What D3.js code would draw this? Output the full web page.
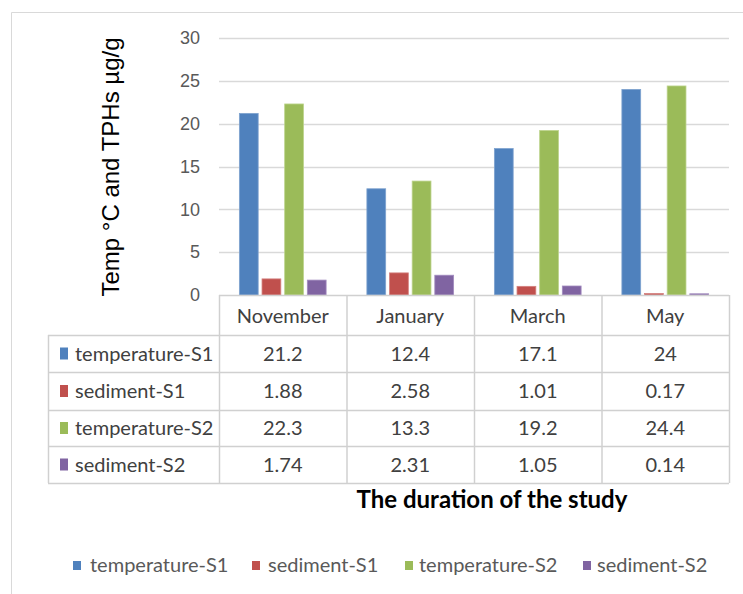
<!DOCTYPE html>
<html><head><meta charset="utf-8">
<script src="https://cdn.jsdelivr.net/npm/d3@7"></script>
<style>body{margin:0;background:#fff}svg{display:block}</style>
</head><body>
<svg id="c" width="743" height="594"></svg>
<script>
const categories = ["November","January","March","May"];
const seriesNames = ["temperature-S1","sediment-S1","temperature-S2","sediment-S2"];
const temperatureS1 = [21.2,12.4,17.1,24];
const sedimentS1 = [1.88,2.58,1.01,0.17];
const temperatureS2 = [22.3,13.3,19.2,24.4];
const sedimentS2 = [1.74,2.31,1.05,0.14];
const seriesLabels = [["21.2","12.4","17.1","24"],["1.88","2.58","1.01","0.17"],["22.3","13.3","19.2","24.4"],["1.74","2.31","1.05","0.14"]];
const yTicks = [0,5,10,15,20,25,30];
const colors = ["#4F81BD","#C0504D","#9BBB59","#8064A2"];
const strokes = ["#7fa3cf","#d4807e","#bcd38c","#a28cbf"];
const values = [temperatureS1, sedimentS1, temperatureS2, sedimentS2];

const svg = d3.select("#c");
const font = "Lato, 'Open Sans', sans-serif";
const textCol = "#404040";
const gridCol = "#d9d9d9";

svg.append("path").attr("d","M11.5,594 V12.5 H743").attr("fill","none").attr("stroke",gridCol);

const plotL = 219, plotR = 729, plotT = 38, plotB = 295;
const x0 = d3.scaleBand().domain(categories).range([plotL, plotR]).padding(0);
const x1 = d3.scaleBand().domain(seriesNames).range([0, x0.bandwidth()]).paddingInner(0.17).paddingOuter(0.9);
const y = d3.scaleLinear().domain([0,30]).range([plotB, plotT]);

svg.append("g").selectAll("line").data(yTicks.filter(t=>t>0)).join("line")
  .attr("x1",plotL).attr("x2",plotR).attr("y1",d=>Math.round(y(d))+0.5).attr("y2",d=>Math.round(y(d))+0.5)
  .attr("stroke",gridCol).attr("stroke-width",1.5);

const yAxis = d3.axisLeft(y).tickValues(yTicks).tickSize(0).tickPadding(0);
const ga = svg.append("g").attr("transform",`translate(${200},0)`).call(yAxis);
ga.select(".domain").remove();
ga.selectAll("text").attr("font-family","'Liberation Sans', Arial, sans-serif").attr("font-size",18).attr("fill","#595959");

categories.forEach((c,ci)=>{
  seriesNames.forEach((s,si)=>{
    const v = values[si][ci];
    svg.append("rect")
      .attr("x", x0(c)+x1(s)).attr("width", x1.bandwidth())
      .attr("y", y(v)).attr("height", plotB - y(v))
      .attr("fill", colors[si]).attr("stroke", strokes[si]).attr("stroke-width",0.8);
  });
});

svg.append("text").attr("transform",`translate(119,167) rotate(-90)`)
  .attr("text-anchor","middle").attr("font-family","'Liberation Sans', Arial, sans-serif")
  .attr("font-size",24).attr("fill","#000").text("Temp °C and TPHs µg/g");

const tblL = 48;
const rowY = [295,335,372,410,446,483];
const tcol = "#d0d0d0";
const tg = svg.append("g");
tg.append("line").attr("x1",plotL).attr("x2",plotR).attr("y1",rowY[0]+0.5).attr("y2",rowY[0]+0.5).attr("stroke",tcol).attr("stroke-width",1.5);
for (let r=1;r<rowY.length;r++){
  tg.append("line").attr("x1",tblL).attr("x2",plotR).attr("y1",rowY[r]+0.5).attr("y2",rowY[r]+0.5).attr("stroke",tcol).attr("stroke-width",1.5);
}
tg.append("line").attr("x1",tblL+0.5).attr("x2",tblL+0.5).attr("y1",rowY[1]).attr("y2",rowY[5]).attr("stroke",tcol).attr("stroke-width",1.5);
[...categories.map(c=>x0(c)), plotR].forEach(xx=>{
  tg.append("line").attr("x1",xx+0.5).attr("x2",xx+0.5).attr("y1",rowY[0]).attr("y2",rowY[5]).attr("stroke",tcol).attr("stroke-width",1.5);
});
tg.selectAll("text.h").data(categories).join("text").attr("class","h")
  .attr("x",d=>x0(d)+x0.bandwidth()/2).attr("y",(rowY[0]+rowY[1])/2+8)
  .attr("text-anchor","middle").attr("font-family",font).attr("font-size",20).attr("fill",textCol).text(d=>d);
seriesNames.forEach((s,si)=>{
  const cy = (rowY[si+1]+rowY[si+2])/2;
  tg.append("rect").attr("x",60).attr("y",cy-6).attr("width",8).attr("height",12).attr("fill",colors[si]);
  tg.append("text").attr("x",75).attr("y",cy+7).attr("font-family",font).attr("font-size",20).attr("fill",textCol).text(s);
  categories.forEach((c,ci)=>{
    tg.append("text").attr("x",x0(c)+x0.bandwidth()/2).attr("y",cy+7).attr("text-anchor","middle")
      .attr("font-family",font).attr("font-size",20).attr("fill",textCol).text(seriesLabels[si][ci]);
  });
});

svg.append("text").attr("x",492).attr("y",508).attr("text-anchor","middle")
  .attr("font-family",font).attr("font-weight","bold").attr("font-size",24).attr("fill","#000")
  .text("The duration of the study");

const legX = [73,252,405,583];
const legTX = [90,268,419,597];
seriesNames.forEach((s,si)=>{
  svg.append("rect").attr("x",legX[si]).attr("y",561).attr("width",8).attr("height",9).attr("fill",colors[si]);
  svg.append("text").attr("x",legTX[si]).attr("y",572).attr("font-family",font).attr("font-size",20).attr("fill","#595959").text(s);
});
</script>
</body></html>
